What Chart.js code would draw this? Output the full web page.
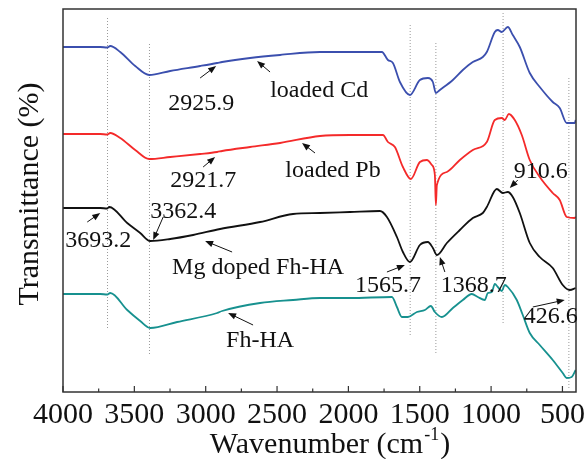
<!DOCTYPE html>
<html>
<head>
<meta charset="utf-8">
<script src="https://cdn.jsdelivr.net/npm/chart.js@4.4.1/dist/chart.umd.min.js"></script>
<style>
  body { margin: 0; background: #fff; }
  canvas { display: block; }
</style>
</head>
<body>
<canvas id="ftirChart" width="585" height="459"></canvas>
<script>
// wavenumber (cm-1) and transmittance (arbitrary, offset)
var cdWave = [4000, 3739, 3690, 3669, 3599, 3494, 3396, 3249, 3039, 2920, 2885, 2689, 2479, 2199, 1989, 1765, 1723, 1688, 1639, 1569, 1499, 1443, 1408, 1387, 1359, 1268, 1198, 1128, 1058, 1030, 974, 953, 925, 883, 848, 799, 729, 659, 568, 519, 470, 414, 407];
var cdT = [345, 345, 344.5, 346, 340, 326, 317, 321, 326, 329, 330, 334, 337, 340, 340, 340, 332, 329, 310, 297, 312, 314, 310, 299, 302, 312, 322, 330, 335, 340, 360, 362, 360, 365, 357, 345, 319, 305, 290, 284, 269, 269, 272];

var pbWave = [4000, 3739, 3690, 3669, 3599, 3494, 3396, 3249, 3039, 2920, 2885, 2689, 2479, 2199, 1989, 1758, 1723, 1674, 1618, 1562, 1499, 1450, 1415, 1394, 1387, 1380, 1310, 1219, 1128, 1030, 974, 925, 904, 876, 834, 785, 729, 659, 568, 519, 470, 414, 407];
var pbT = [258, 258, 257.5, 259, 254, 242, 233, 235, 238, 240, 241, 245, 249, 256, 257, 257, 250, 245, 225, 213, 230, 232, 227, 217, 187, 207, 220, 232, 242, 250, 272, 274, 272, 278, 272, 257, 232, 215, 199, 192, 175, 174, 175];

var mgWave = [4000, 3739, 3690, 3676, 3550, 3459, 3389, 3249, 3088, 2899, 2619, 2388, 2199, 1989, 1779, 1730, 1660, 1618, 1569, 1499, 1443, 1408, 1380, 1310, 1219, 1128, 1058, 1030, 960, 918, 883, 848, 799, 729, 659, 568, 498, 449, 407];
var mgT = [184, 184, 183.5, 185, 169, 159, 151, 153, 157, 163, 170, 178, 179, 180, 181, 175, 155, 140, 130, 147, 150, 144, 137, 149, 162, 174, 179, 185, 203, 199, 200, 195, 179, 149, 135, 124, 107, 102, 104];

var fhWave = [4000, 3739, 3690, 3669, 3550, 3459, 3389, 3200, 2920, 2885, 2619, 2388, 2199, 1989, 1695, 1660, 1625, 1583, 1520, 1464, 1422, 1394, 1345, 1268, 1198, 1135, 1093, 1044, 1023, 995, 974, 953, 925, 904, 883, 820, 778, 729, 659, 568, 498, 470, 435, 407];
var fhT = [98, 98, 97.5, 99, 82, 71, 64, 70, 79, 81, 89, 92, 94, 94, 95, 85, 75, 75, 80, 82, 86, 80, 75, 84, 92, 98, 95, 92, 99, 100, 108, 105, 101, 107, 105, 92, 77, 59, 47, 32, 19, 14, 15, 22];

// dotted guide lines at the marked bands
var guideWave = [3688, 3394, 1567, 1387, 916, 455];
var guideTop = [374, 348, 367, 349, 379, 314];
var guideBottom = [62, 37, 57, 39, 67, 2];

var xTickLabels = [4000, 3500, 3000, 2500, 2000, 1500, 1000, 500];
var xMinorTicks = [3750, 3250, 2750, 2250, 1750, 1250, 750];

// annotation text (baseline centre) and arrows
var noteText = ['2925.9', 'loaded Cd', '2921.7', 'loaded Pb', '3362.4', '3693.2', 'Mg doped Fh-HA', 'Fh-HA', '1565.7', '1368.7', '910.6', '426.6'];
var noteWave = [3032, 2205, 3018, 2108, 3158, 3753, 2633, 2619, 1723, 1121, 652, 582];
var noteT = [282, 295, 205, 215, 174, 145, 118, 45, 100, 100, 214, 69];
var arrowFromWave = [3039, 2549, 3018, 2234, 3298, 3830, 2815, 2668, 1730, 1324, 813, 708];
var arrowFromT = [314, 320, 225, 239, 175, 170, 140, 67, 120, 120, 212, 85];
var arrowToWave = [2927, 2640, 2934, 2325, 3368, 3739, 3004, 2843, 1604, 1359, 869, 484];
var arrowToT = [326, 331, 235, 249, 152, 179, 151, 79, 127, 135, 204, 92];

var serif = '"Liberation Serif", "Times New Roman", serif';

function toPoints(xs, ys) {
    return xs.map(function(x, i) { return { x: x, y: ys[i] }; });
}

function curve(xs, ys, color) {
    return {
        data: toPoints(xs, ys),
        showLine: true,
        borderColor: color,
        borderWidth: 1.8,
        pointRadius: 0,
        cubicInterpolationMode: 'monotone',
        fill: false
    };
}

var datasets = [
    curve(cdWave, cdT, '#3b4fae'),
    curve(pbWave, pbT, '#f42a2a'),
    curve(mgWave, mgT, '#111111'),
    curve(fhWave, fhT, '#17918f')
];

guideWave.forEach(function(w, i) {
    datasets.push({
        data: [{ x: w, y: guideTop[i] }, { x: w, y: guideBottom[i] }],
        showLine: true,
        borderColor: '#9a9a9a',
        borderWidth: 1,
        borderDash: [1, 2],
        pointRadius: 0
    });
});

function drawArrow(c, x1, y1, x2, y2) {
    var ang = Math.atan2(y2 - y1, x2 - x1);
    var len = 8, half = 3.2;
    c.beginPath();
    c.moveTo(x1, y1);
    c.lineTo(x2 - Math.cos(ang) * len * 0.8, y2 - Math.sin(ang) * len * 0.8);
    c.stroke();
    c.beginPath();
    c.moveTo(x2, y2);
    c.lineTo(x2 - Math.cos(ang) * len - Math.sin(ang) * half, y2 - Math.sin(ang) * len + Math.cos(ang) * half);
    c.lineTo(x2 - Math.cos(ang) * len + Math.sin(ang) * half, y2 - Math.sin(ang) * len - Math.cos(ang) * half);
    c.closePath();
    c.fill();
}

var decorPlugin = {
    id: 'decor',
    afterDraw: function(chart) {
        var c = chart.ctx;
        var area = chart.chartArea;
        var xs = chart.scales.x;
        var ys = chart.scales.y;
        c.save();

        // frame
        c.strokeStyle = '#333';
        c.lineWidth = 1.5;
        c.strokeRect(area.left, area.top, area.right - area.left, area.bottom - area.top);

        // inward ticks on the bottom axis
        c.lineWidth = 1.2;
        c.beginPath();
        xTickLabels.forEach(function(v) {
            var px = xs.getPixelForValue(v);
            c.moveTo(px, area.bottom);
            c.lineTo(px, area.bottom - 6);
        });
        xMinorTicks.forEach(function(v) {
            var px = xs.getPixelForValue(v);
            c.moveTo(px, area.bottom);
            c.lineTo(px, area.bottom - 3.5);
        });
        c.stroke();

        // tick labels
        c.fillStyle = '#111';
        c.font = '30px ' + serif;
        c.textAlign = 'center';
        c.textBaseline = 'alphabetic';
        xTickLabels.forEach(function(v) {
            c.fillText(String(v), xs.getPixelForValue(v), 423);
        });

        // x title with superscript
        var t1 = 'Wavenumber (cm', sup = '-1', t2 = ')';
        c.font = '30px ' + serif;
        var w1 = c.measureText(t1).width, w2 = c.measureText(t2).width;
        c.font = '18px ' + serif;
        var ws = c.measureText(sup).width;
        var startX = 329 - (w1 + ws + w2) / 2;
        c.textAlign = 'left';
        c.font = '30px ' + serif;
        c.fillText(t1, startX, 453);
        c.font = '18px ' + serif;
        c.fillText(sup, startX + w1 + 1, 440);
        c.font = '30px ' + serif;
        c.fillText(t2, startX + w1 + ws + 2, 453);

        // y title
        c.save();
        c.translate(38, 194);
        c.rotate(-Math.PI / 2);
        c.textAlign = 'center';
        c.fillText('Transmittance (%)', 0, 0);
        c.restore();

        // annotations
        c.font = '24px ' + serif;
        c.textAlign = 'center';
        noteText.forEach(function(t, i) {
            c.fillText(t, xs.getPixelForValue(noteWave[i]), ys.getPixelForValue(noteT[i]));
        });
        c.strokeStyle = '#111';
        c.lineWidth = 1;
        arrowFromWave.forEach(function(w, i) {
            drawArrow(c,
                xs.getPixelForValue(w), ys.getPixelForValue(arrowFromT[i]),
                xs.getPixelForValue(arrowToWave[i]), ys.getPixelForValue(arrowToT[i]));
        });

        c.restore();
    }
};

var ctx = document.getElementById('ftirChart').getContext('2d');
new Chart(ctx, {
    type: 'scatter',
    data: { datasets: datasets },
    options: {
        responsive: false,
        animation: false,
        devicePixelRatio: 1,
        layout: { padding: { left: 63, right: 9, top: 9, bottom: 67 } },
        plugins: {
            legend: { display: false },
            tooltip: { enabled: false }
        },
        scales: {
            x: { type: 'linear', reverse: true, min: 405, max: 4000, display: false },
            y: { type: 'linear', min: 0, max: 383, display: false }
        }
    },
    plugins: [decorPlugin]
});
</script>
</body>
</html>
